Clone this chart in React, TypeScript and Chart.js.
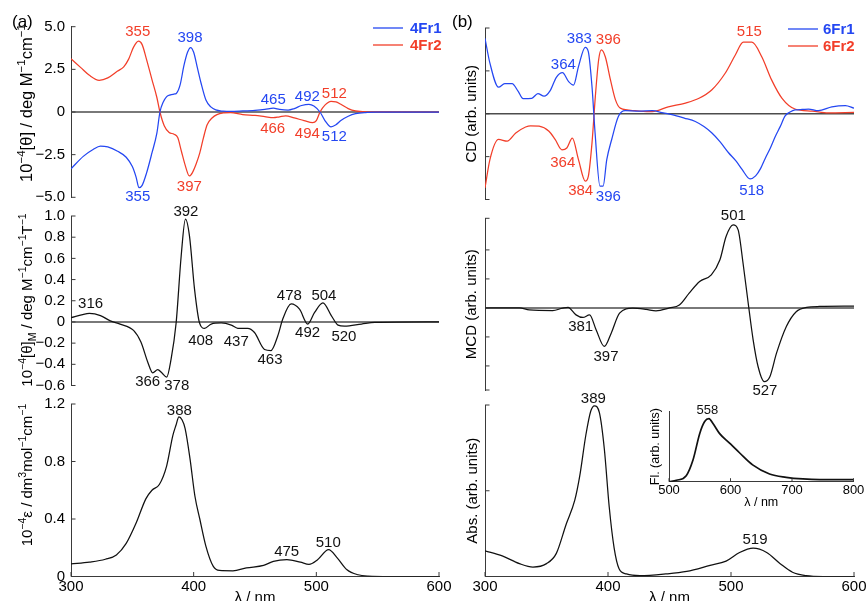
import React, { useEffect, useRef } from 'react';
import { Chart, registerables } from 'chart.js';
Chart.register(...registerables);

const FONT = '"Liberation Sans", Arial, Helvetica, sans-serif';
const BLUE = '#2447f2';
const RED = '#f23e29';
const BLACK = '#111111';
const AX = '#3a3a3a';

// ---------- (a) CD of 4Fr1 / 4Fr2 ----------
const cd4Fr1Wl = [300, 310, 318, 324, 330, 338, 345, 350, 353, 355.5, 358, 361.5, 366, 370, 372.5, 375, 378, 381, 384, 386, 389, 392, 395, 397.5, 400, 403, 406, 410, 414, 418, 424, 430, 440, 450, 458, 465, 470, 477, 482, 488, 494, 498, 503, 507, 512, 516, 520, 526, 532, 540, 550, 600];
const cd4Fr1 = [-3.33, -2.6, -2.2, -2.0, -2.05, -2.3, -2.65, -3.2, -3.8, -4.44, -4.3, -3.6, -2.4, -1.24, 0, 0.55, 0.9, 1.0, 1.05, 1.1, 1.6, 2.7, 3.5, 3.78, 3.5, 2.6, 1.7, 0.7, 0.3, 0.12, 0.05, 0.03, 0.06, 0.1, 0.15, 0.22, 0.15, 0.11, 0.2, 0.38, 0.45, 0.35, 0, -0.5, -0.87, -0.75, -0.5, -0.25, -0.1, -0.03, -0.01, 0];
const cd4Fr2Wl = [300, 308, 315, 323, 330, 338, 343, 347, 351, 355, 358, 361.5, 366, 370, 372.5, 376, 380, 384, 387, 390, 393, 396.5, 399, 402, 405, 408, 411, 415, 419, 425, 430, 440, 450, 458, 465, 470, 475, 482, 490, 497, 500, 503, 507, 512, 516, 520, 526, 532, 540, 600];
const cd4Fr2 = [3.12, 2.6, 2.15, 1.86, 2.0, 2.4, 2.65, 3.1, 3.8, 4.15, 3.95, 3.1, 1.9, 0.85, 0, -0.8, -1.2, -1.3, -1.5, -2.3, -3.1, -3.75, -3.55, -3.05, -2.4, -1.5, -0.75, -0.35, -0.15, -0.05, -0.03, -0.15, -0.2, -0.27, -0.33, -0.28, -0.23, -0.35, -0.5, -0.62, -0.5, 0, 0.4, 0.62, 0.6, 0.45, 0.2, 0.06, 0.01, 0];
const cd4Ticks = [-5, -2.5, 0, 2.5, 5];
const cd4TickLabels = ['\u22125.0', '\u22122.5', '0', '2.5', '5.0'];
const cd4Peaks: [string, number, number, string][] = [
  ['355', 354.4, 4.67, RED], ['398', 397, 4.32, BLUE], ['465', 464.9, 0.7, BLUE], ['492', 492.7, 0.9, BLUE],
  ['512', 514.7, 1.04, RED], ['466', 464.4, -1.0, RED], ['494', 492.7, -1.29, RED], ['512', 514.7, -1.45, BLUE],
  ['397', 396.5, -4.38, RED], ['355', 354.4, -4.96, BLUE],
];

// ---------- (a) MCD of 4 ----------
const mcd4Wl = [300, 309.5, 315, 324, 332, 340, 351, 357, 362.6, 366.6, 370.7, 374, 378, 381.6, 385.7, 389.8, 393.3, 396.6, 400.7, 404.8, 408.9, 414.3, 422.5, 430.7, 436, 444, 449.6, 457.8, 463, 468.6, 472.7, 479.5, 486.3, 493, 498.6, 505.4, 512.2, 517.7, 523, 536.8, 547.7, 600];
const mcd4 = [0.04, 0.07, 0.08, 0.06, 0.01, -0.02, -0.08, -0.19, -0.38, -0.48, -0.45, -0.48, -0.52, -0.35, -0.01, 0.62, 0.97, 0.81, 0.31, -0.01, -0.06, -0.02, -0.01, -0.03, -0.06, -0.06, -0.1, -0.26, -0.27, -0.13, 0.03, 0.17, 0.12, -0.02, 0.09, 0.18, 0.06, -0.03, -0.04, -0.02, -0.005, 0];
const mcd4Ticks = [-0.6, -0.4, -0.2, 0, 0.2, 0.4, 0.6, 0.8, 1.0];
const mcd4TickLabels = ['\u22120.6', '\u22120.4', '\u22120.2', '0', '0.2', '0.4', '0.6', '0.8', '1.0'];
const mcd4Peaks: [string, number, number, string][] = [
  ['392', 393.7, 1.04, BLACK], ['316', 316, 0.166, BLACK], ['478', 478, 0.244, BLACK], ['504', 506.2, 0.25, BLACK],
  ['408', 405.7, -0.178, BLACK], ['437', 434.7, -0.187, BLACK], ['463', 462.2, -0.356, BLACK], ['492', 492.9, -0.1, BLACK],
  ['520', 522.5, -0.137, BLACK], ['366', 362.5, -0.568, BLACK], ['378', 386.2, -0.6, BLACK],
];

// ---------- (a) Absorption of 4 ----------
const abs4Wl = [300, 315, 328, 337, 345, 353, 361, 366, 372, 378, 383, 385.5, 388, 390.5, 393, 397, 401, 405, 410, 416, 421, 432, 443, 457, 465, 476, 487, 494, 501, 510, 517, 525, 534, 542, 560, 600];
const abs4 = [0.087, 0.1, 0.12, 0.15, 0.23, 0.37, 0.54, 0.6, 0.64, 0.77, 0.98, 1.05, 1.11, 1.09, 1.03, 0.82, 0.56, 0.4, 0.21, 0.07, 0.042, 0.04, 0.06, 0.077, 0.105, 0.117, 0.1, 0.085, 0.117, 0.187, 0.13, 0.047, 0.012, 0.003, 0, 0];
const abs4Ticks = [0, 0.4, 0.8, 1.2];
const abs4TickLabels = ['0', '0.4', '0.8', '1.2'];
const abs4Peaks: [string, number, number, string][] = [
  ['388', 388.3, 1.153, BLACK], ['475', 475.8, 0.173, BLACK], ['510', 509.7, 0.235, BLACK],
];

// ---------- (b) CD of 6Fr1 / 6Fr2 ----------
const cd6Fr1Wl = [300, 304, 311, 316, 322, 327, 331, 338, 343, 348, 353, 358, 363, 368, 372, 376, 381.5, 384, 387, 389.5, 393.5, 396, 399, 403, 408.5, 414, 425, 436, 445, 452, 462, 471, 478, 484.5, 491, 498, 504, 509, 515.5, 520, 524, 528, 532, 536, 540, 544, 548, 552, 558, 563, 571, 582, 593, 600];
const cd6Fr1 = [1.76, 1.18, 0.62, 0.7, 0.7, 0.52, 0.35, 0.36, 0.47, 0.41, 0.54, 0.85, 0.96, 0.75, 0.67, 1.1, 1.55, 1.45, 0.63, -0.45, -1.69, -1.69, -1.07, -0.6, -0.06, 0.07, 0.06, 0.07, 0.02, -0.02, -0.1, -0.18, -0.3, -0.45, -0.65, -0.91, -1.1, -1.3, -1.52, -1.45, -1.28, -1.03, -0.8, -0.53, -0.3, -0.05, 0.04, 0.09, 0.1, 0.11, 0.07, 0.16, 0.19, 0.13];
const cd6Fr2Wl = [300, 304, 311, 318, 325, 333, 337, 344, 352, 357, 362.5, 366.5, 371, 376, 381.5, 384, 387, 389.7, 392.4, 394.6, 397.8, 402, 406, 410, 422, 436, 449, 463, 474, 484.5, 495.4, 503.5, 510, 517, 525, 533, 541.5, 552, 566, 579, 600];
const cd6Fr2 = [-1.73, -1.07, -0.6, -0.64, -0.45, -0.31, -0.28, -0.29, -0.41, -0.6, -0.84, -0.8, -0.57, -1.07, -1.57, -1.46, -0.68, 0.4, 1.26, 1.49, 1.33, 0.79, 0.33, 0.13, 0.07, 0.05, 0.16, 0.25, 0.36, 0.56, 0.95, 1.37, 1.67, 1.67, 1.33, 0.79, 0.36, 0.11, 0.06, 0.02, 0.03];
const cd6Ticks = [-2, -1, 0, 1, 2];
const cd6Peaks: [string, number, number, string][] = [
  ['364', 363.7, 1.14, BLUE], ['383', 376.7, 1.74, BLUE], ['396', 400.3, 1.72, RED], ['515', 514.9, 1.92, RED],
  ['364', 363.2, -1.15, RED], ['384', 377.8, -1.79, RED], ['396', 400.3, -1.93, BLUE], ['518', 516.8, -1.79, BLUE],
];

// ---------- (b) MCD of 6 ----------
const mcd6Wl = [300, 328, 336, 355, 363, 367.5, 374, 379.6, 385, 390.4, 397, 402.6, 409.4, 420, 431, 439, 450, 458, 466, 474.5, 484, 491, 496, 501.7, 505.8, 509.8, 514, 518, 522, 527, 531.6, 537, 545, 553, 561.5, 572, 600];
const mcd6 = [0, 0, -0.07, -0.09, -0.01, 0.02, -0.24, -0.33, -0.24, -0.76, -1.33, -0.87, -0.18, -0.01, -0.05, -0.1, 0, 0.1, 0.51, 0.91, 1.14, 1.66, 2.46, 2.86, 2.69, 1.54, 0.16, -1.1, -2.02, -2.54, -2.37, -1.56, -0.64, -0.13, 0.02, 0.05, 0.06];
const mcd6Ticks = [-2.83, -2, -1, 0, 1, 2, 3.09];
const mcd6Peaks: [string, number, number, string][] = [
  ['501', 501.9, 3.17, BLACK], ['381', 377.8, -0.64, BLACK], ['397', 398.4, -1.68, BLACK], ['527', 527.6, -2.85, BLACK],
];

// ---------- (b) Absorption of 6 ----------
const abs6Wl = [300, 314, 328, 339, 350, 358, 366, 373, 377, 382, 386, 389, 393, 397, 401, 405, 409, 415, 426, 447, 464, 483, 496, 507, 518, 529, 540, 550, 561, 575, 600];
const abs6 = [0.3, 0.24, 0.15, 0.11, 0.15, 0.27, 0.61, 0.89, 1.17, 1.65, 1.93, 1.99, 1.91, 1.49, 0.81, 0.33, 0.09, 0.03, 0.01, 0.03, 0.06, 0.13, 0.18, 0.28, 0.33, 0.28, 0.15, 0.05, 0.01, 0, 0];
const abs6Ticks = [0, 1, 2];
const abs6Peaks: [string, number, number, string][] = [['389', 388.1, 2.07, BLACK], ['519', 519.5, 0.426, BLACK]];

// ---------- inset: fluorescence of 6 ----------
const flWl = [500, 512, 528, 539, 550, 558, 565, 571.5, 582, 598.5, 615, 636, 663.5, 690.6, 717.7, 744.8, 800];
const fl = [0, 0.02, 0.086, 0.31, 0.69, 0.86, 0.9, 0.83, 0.69, 0.55, 0.41, 0.24, 0.11, 0.063, 0.039, 0.03, 0.03];
const flXTicks = [500, 600, 700, 800];
const flPeaks: [string, number, number, string][] = [['558', 562.4, 1.02, BLACK]];

const wlTicks = [300, 400, 500, 600];

type Seg = { t: string; s?: 'sup' | 'sub' };
type Series = { label: string; wl: number[]; val: number[]; color: string; width?: number };

interface Panel {
  left: number; top: number; width: number; height: number;
  area: [number, number, number, number];
  xMin: number; xMax: number; yMin: number; yMax: number;
  series: Series[];
  yTicks: number[]; yTickLabels?: string[];
  xTicks?: number[]; xTitle?: string; xAxisH?: number;
  yTitle?: string; yTitlePad?: number;
  rich?: { segs: Seg[]; x: number; y: number; size: number };
  zero?: boolean;
  peaks: [string, number, number, string][];
  fs: number; titleFs: number;
  tickLen: number;
  legend?: { x0: number; x1: number; tx: number; y0: number; dy: number };
  letter?: { text: string; x: number; y: number };
}

const yTitleCD4: Seg[] = [{ t: '10' }, { t: '\u22124', s: 'sup' }, { t: '[\u03B8] / deg M' }, { t: '\u22121', s: 'sup' }, { t: 'cm' }, { t: '\u22121', s: 'sup' }];
const yTitleMCD4: Seg[] = [{ t: '10' }, { t: '\u22124', s: 'sup' }, { t: '[\u03B8]' }, { t: 'M', s: 'sub' }, { t: ' / deg M' }, { t: '\u22121', s: 'sup' }, { t: 'cm' }, { t: '\u22121', s: 'sup' }, { t: 'T' }, { t: '\u22121', s: 'sup' }];
const yTitleAbs4: Seg[] = [{ t: '10' }, { t: '\u22124', s: 'sup' }, { t: '\u03B5 / dm' }, { t: '3', s: 'sup' }, { t: 'mol' }, { t: '\u22121', s: 'sup' }, { t: 'cm' }, { t: '\u22121', s: 'sup' }];

function drawRich(ctx: CanvasRenderingContext2D, segs: Seg[], x: number, y: number, size: number) {
  ctx.save();
  ctx.translate(x, y);
  ctx.rotate(-Math.PI / 2);
  const small = size * 0.7;
  const widths = segs.map((s) => {
    ctx.font = `${s.s ? small : size}px ${FONT}`;
    return ctx.measureText(s.t).width;
  });
  const total = widths.reduce((a, b) => a + b, 0);
  let cx = -total / 2;
  ctx.textAlign = 'left';
  ctx.textBaseline = 'alphabetic';
  ctx.fillStyle = '#000';
  segs.forEach((s, i) => {
    ctx.font = `${s.s ? small : size}px ${FONT}`;
    const dy = s.s === 'sup' ? -size * 0.4 : s.s === 'sub' ? size * 0.25 : 0;
    ctx.fillText(s.t, cx, dy);
    cx += widths[i];
  });
  ctx.restore();
}

const PANELS: Panel[] = [
  {
    left: 0, top: 0, width: 460, height: 212, area: [71, 26.7, 439, 197.3],
    xMin: 300, xMax: 600, yMin: -5, yMax: 5,
    series: [
      { label: '4Fr1', wl: cd4Fr1Wl, val: cd4Fr1, color: BLUE },
      { label: '4Fr2', wl: cd4Fr2Wl, val: cd4Fr2, color: RED },
    ],
    yTicks: cd4Ticks, yTickLabels: cd4TickLabels, zero: true, peaks: cd4Peaks, fs: 15, titleFs: 15, tickLen: 4.5,
    rich: { segs: yTitleCD4, x: 32, y: 103, size: 16.5 },
    legend: { x0: 373, x1: 403, tx: 410, y0: 28, dy: 17 },
    letter: { text: '(a)', x: 12, y: 27 },
  },
  {
    left: 0, top: 200, width: 460, height: 200, area: [71, 216, 439, 385.5],
    xMin: 300, xMax: 600, yMin: -0.6, yMax: 1.0,
    series: [{ label: 'MCD 4', wl: mcd4Wl, val: mcd4, color: BLACK }],
    yTicks: mcd4Ticks, yTickLabels: mcd4TickLabels, zero: true, peaks: mcd4Peaks, fs: 15, titleFs: 15, tickLen: 4.5,
    rich: { segs: yTitleMCD4, x: 32, y: 100, size: 15 },
  },
  {
    left: 0, top: 385, width: 460, height: 240, area: [71, 404, 439, 576.5],
    xMin: 300, xMax: 600, yMin: 0, yMax: 1.2,
    series: [{ label: 'Abs 4', wl: abs4Wl, val: abs4, color: BLACK }],
    yTicks: abs4Ticks, yTickLabels: abs4TickLabels, peaks: abs4Peaks, fs: 15, titleFs: 15, tickLen: 4.5,
    xTicks: wlTicks, xTitle: '\u03BB / nm', xAxisH: 30,
    rich: { segs: yTitleAbs4, x: 32, y: 90, size: 15 },
  },
  {
    left: 440, top: 0, width: 427, height: 212, area: [485, 28, 854, 199.5],
    xMin: 300, xMax: 600, yMin: -2, yMax: 2,
    series: [
      { label: '6Fr1', wl: cd6Fr1Wl, val: cd6Fr1, color: BLUE },
      { label: '6Fr2', wl: cd6Fr2Wl, val: cd6Fr2, color: RED },
    ],
    yTicks: cd6Ticks, zero: true, peaks: cd6Peaks, fs: 15, titleFs: 15, tickLen: 4.5,
    yTitle: 'CD (arb. units)', yTitlePad: 22.7,
    legend: { x0: 348, x1: 378, tx: 383, y0: 29, dy: 17 },
    letter: { text: '(b)', x: 12, y: 27 },
  },
  {
    left: 440, top: 200, width: 427, height: 200, area: [485, 218.3, 854, 390],
    xMin: 300, xMax: 600, yMin: -2.83, yMax: 3.09,
    series: [{ label: 'MCD 6', wl: mcd6Wl, val: mcd6, color: BLACK }],
    yTicks: mcd6Ticks, zero: true, peaks: mcd6Peaks, fs: 15, titleFs: 15, tickLen: 4.5,
    yTitle: 'MCD (arb. units)', yTitlePad: 22.7,
  },
  {
    left: 440, top: 385, width: 427, height: 240, area: [485, 405, 854, 576.5],
    xMin: 300, xMax: 600, yMin: 0, yMax: 2,
    series: [{ label: 'Abs 6', wl: abs6Wl, val: abs6, color: BLACK }],
    yTicks: abs6Ticks, peaks: abs6Peaks, fs: 15, titleFs: 15, tickLen: 4.5,
    xTicks: wlTicks, xTitle: '\u03BB / nm', xAxisH: 30,
    yTitle: 'Abs. (arb. units)', yTitlePad: 23.5,
  },
  {
    left: 620, top: 395, width: 247, height: 120, area: [669, 411.7, 853.5, 481.7],
    xMin: 500, xMax: 800, yMin: 0, yMax: 1,
    series: [{ label: 'Fl 6', wl: flWl, val: fl, color: BLACK, width: 1.7 }],
    yTicks: [], peaks: flPeaks, fs: 13, titleFs: 12.5, tickLen: 3.5,
    xTicks: flXTicks, xTitle: '\u03BB / nm', xAxisH: 28,
    yTitle: 'Fl. (arb. units)', yTitlePad: 28.5,
  },
];

function makeChart(canvas: HTMLCanvasElement, p: Panel) {
  const W = p.area[0] - p.left;
  const H = p.xTicks ? p.xAxisH || 30 : 0;
  const padding = {
    left: 0,
    top: p.area[1] - p.top,
    right: p.left + p.width - p.area[2],
    bottom: p.top + p.height - p.area[3] - H,
  };
  const zeroPad = (s: any) => {
    s.paddingLeft = 0; s.paddingRight = 0; s.paddingTop = 0; s.paddingBottom = 0;
  };
  const decor = {
    id: 'decor',
    beforeDatasetsDraw(chart: any) {
      if (!p.zero) return;
      const { ctx, chartArea } = chart;
      const y0 = chart.scales.y.getPixelForValue(0);
      ctx.save();
      ctx.strokeStyle = '#4d4d4d';
      ctx.lineWidth = 1.5;
      ctx.beginPath();
      ctx.moveTo(chartArea.left, y0);
      ctx.lineTo(chartArea.right, y0);
      ctx.stroke();
      ctx.restore();
    },
    afterDatasetsDraw(chart: any) {
      const { ctx, chartArea } = chart;
      const xs = chart.scales.x;
      const ys = chart.scales.y;
      ctx.save();
      ctx.strokeStyle = AX;
      ctx.lineWidth = 1;
      ys.ticks.forEach((t: any) => {
        const py = ys.getPixelForValue(t.value);
        ctx.beginPath();
        ctx.moveTo(chartArea.left, py);
        ctx.lineTo(chartArea.left + p.tickLen, py);
        ctx.stroke();
      });
      if (p.xTicks) {
        xs.ticks.forEach((t: any) => {
          const px = xs.getPixelForValue(t.value);
          ctx.beginPath();
          ctx.moveTo(px, chartArea.bottom);
          ctx.lineTo(px, chartArea.bottom - p.tickLen);
          ctx.stroke();
        });
      }
      ctx.font = `${p.fs}px ${FONT}`;
      ctx.textAlign = 'center';
      ctx.textBaseline = 'middle';
      p.peaks.forEach(([txt, wl, v, c]) => {
        ctx.fillStyle = c;
        ctx.fillText(txt, xs.getPixelForValue(wl), ys.getPixelForValue(v));
      });
      if (p.rich) drawRich(ctx, p.rich.segs, p.rich.x, p.rich.y, p.rich.size);
      if (p.letter) {
        ctx.fillStyle = '#000';
        ctx.font = `17px ${FONT}`;
        ctx.textAlign = 'left';
        ctx.textBaseline = 'alphabetic';
        ctx.fillText(p.letter.text, p.letter.x, p.letter.y);
      }
      if (p.legend) {
        const L = p.legend;
        chart.data.datasets.forEach((ds: any, i: number) => {
          const y = L.y0 + i * L.dy;
          ctx.strokeStyle = ds.borderColor;
          ctx.lineWidth = 1.3;
          ctx.beginPath();
          ctx.moveTo(L.x0, y);
          ctx.lineTo(L.x1, y);
          ctx.stroke();
          ctx.fillStyle = ds.borderColor;
          ctx.font = `bold 15px ${FONT}`;
          ctx.textAlign = 'left';
          ctx.textBaseline = 'middle';
          ctx.fillText(ds.label, L.tx, y + 0.5);
        });
      }
      ctx.restore();
    },
  };

  return new Chart(canvas, {
    type: 'line',
    data: {
      datasets: p.series.map((s) => ({
        label: s.label,
        data: s.wl.map((x, i) => ({ x, y: s.val[i] })),
        borderColor: s.color,
        backgroundColor: s.color,
        borderWidth: s.width || 1.25,
        pointRadius: 0,
        fill: false,
        cubicInterpolationMode: 'monotone' as const,
      })),
    },
    options: {
      responsive: false,
      animation: false,
      events: [],
      layout: { padding },
      plugins: { legend: { display: false }, tooltip: { enabled: false }, title: { display: false } },
      scales: {
        x: {
          type: 'linear',
          min: p.xMin,
          max: p.xMax,
          display: !!p.xTicks,
          grid: { display: false, drawTicks: false },
          border: { display: true, color: AX, width: 1 },
          ticks: {
            padding: 1,
            color: '#000',
            font: { family: FONT, size: p.fs },
            maxRotation: 0,
            autoSkip: false,
            callback: (v: any) => String(v),
          },
          title: p.xTitle
            ? { display: true, text: p.xTitle, color: '#000', font: { family: FONT, size: p.titleFs }, padding: { top: 0, bottom: 0 } }
            : { display: false },
          afterBuildTicks: (s: any) => {
            if (p.xTicks) s.ticks = p.xTicks.map((v) => ({ value: v }));
          },
          afterFit: (s: any) => {
            s.height = H;
            zeroPad(s);
          },
        },
        y: {
          type: 'linear',
          min: p.yMin,
          max: p.yMax,
          grid: { display: false, drawTicks: false },
          border: { display: true, color: AX, width: 1 },
          ticks: {
            display: !!p.yTickLabels,
            padding: 6,
            color: '#000',
            font: { family: FONT, size: p.fs },
            autoSkip: false,
            callback: (_v: any, i: number) => (p.yTickLabels ? p.yTickLabels[i] : ''),
          },
          title: p.yTitle
            ? { display: true, text: p.yTitle, color: '#000', font: { family: FONT, size: p.titleFs }, padding: { top: p.yTitlePad || 0, bottom: 0 } }
            : { display: false },
          afterBuildTicks: (s: any) => {
            s.ticks = p.yTicks.map((v) => ({ value: v }));
          },
          afterFit: (s: any) => {
            s.width = W;
            zeroPad(s);
          },
        },
      },
    } as any,
    plugins: [decor],
  });
}

export default function App() {
  const refs = useRef<(HTMLCanvasElement | null)[]>([]);
  useEffect(() => {
    const charts = PANELS.map((p, i) => makeChart(refs.current[i] as HTMLCanvasElement, p));
    return () => charts.forEach((c) => c.destroy());
  }, []);
  return (
    <div style={{ position: 'absolute', left: 0, top: 0, width: 867, height: 601, overflow: 'hidden', background: '#fff' }}>
      {PANELS.map((p, i) => (
        <canvas
          key={i}
          ref={(el) => {
            refs.current[i] = el;
          }}
          width={p.width}
          height={p.height}
          style={{ position: 'absolute', left: p.left, top: p.top, width: p.width, height: p.height }}
        />
      ))}
    </div>
  );
}
